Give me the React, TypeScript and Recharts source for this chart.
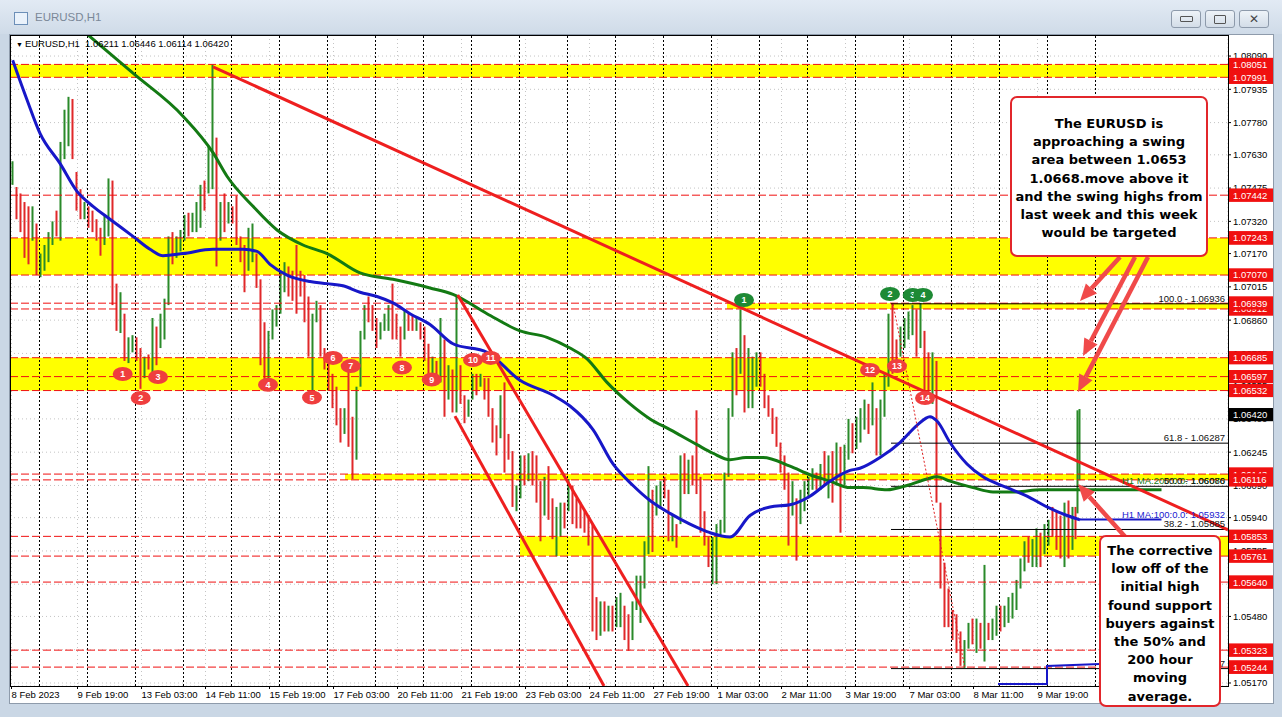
import React from 'react';
import {
  ComposedChart, Bar, Line, XAxis, YAxis, CartesianGrid,
  ReferenceLine, ReferenceArea, ReferenceDot,
} from 'recharts';

// Time index: hours counted from 9 Feb 2023 00:00 (weekends skipped, one unit = one H1 bar)
// Price bars are grouped in pairs of hours, first pair starts 8 Feb 10:00 (hour -14)
const FIRST_HOUR = -14;
const barHigh = [
  1.0760,1.0748,1.0745,1.0741,1.0739,1.0739,1.0731,1.0717,1.0721,1.0727,1.0732,1.0737,
  1.0769,1.0784,1.0790,1.0789,1.0755,1.0747,1.0741,1.0739,1.0737,1.0733,1.0729,1.0735,
  1.0752,1.0751,1.0703,1.0699,1.0689,1.0678,1.0679,1.0678,1.0673,1.0669,1.0670,1.0687,
  1.0683,1.0689,1.0696,1.0725,1.0727,1.0725,1.0728,1.0735,1.0736,1.0736,1.0741,1.0749,
  1.0751,1.0767,1.0805,1.0771,1.0741,1.0745,1.0741,1.0739,1.0744,1.0725,1.0721,1.0729,
  1.0731,1.0717,1.0705,1.0685,1.0681,1.0691,1.0693,1.0709,1.0713,1.0711,1.0709,1.0721,
  1.0709,1.0707,1.0697,1.0689,1.0695,1.0693,1.0673,1.0669,1.0661,1.0655,1.0645,1.0645,
  1.0663,1.0641,1.0655,1.0681,1.0693,1.0697,1.0693,1.0687,1.0685,1.0689,1.0693,1.0703,
  1.0689,1.0683,1.0691,1.0689,1.0688,1.0687,1.0685,1.0683,1.0675,1.0669,1.0667,1.0687,
  1.0677,1.0665,1.0663,1.0697,1.0665,1.0651,1.0649,1.0661,1.0661,1.0661,1.0659,1.0659,
  1.0645,1.0637,1.0651,1.0657,1.0633,1.0625,1.0609,1.0623,1.0623,1.0624,1.0625,1.0623,
  1.0611,1.0613,1.0618,1.0603,1.0599,1.0601,1.0601,1.0612,1.0609,1.0603,1.0601,1.0597,
  1.0595,1.0591,1.0557,1.0555,1.0555,1.0553,1.0553,1.0557,1.0559,1.0553,1.0549,1.0555,
  1.0567,1.0567,1.0583,1.0618,1.0607,1.0609,1.0611,1.0613,1.0607,1.0595,1.0591,1.0623,
  1.0624,1.0621,1.0623,1.0644,1.0613,1.0597,1.0585,1.0585,1.0591,1.0593,1.0615,1.0645,
  1.0671,1.0673,1.0691,1.0679,1.0673,1.0669,1.0671,1.0671,1.0661,1.0651,1.0645,1.0641,
  1.0629,1.0623,1.0615,1.0611,1.0603,1.0607,1.0611,1.0613,1.0617,1.0615,1.0619,1.0625,
  1.0623,1.0625,1.0629,1.0627,1.0628,1.0640,1.0638,1.0641,1.0645,1.0649,1.0647,1.0657,
  1.0645,1.0649,1.0661,1.0689,1.0694,1.0677,1.0683,1.0687,1.0690,1.0693,1.0691,1.0694,
  1.0681,1.0671,1.0671,1.0667,1.0601,1.0573,1.0561,1.0551,1.0549,1.0541,1.0537,1.0545,
  1.0547,1.0547,1.0545,1.0572,1.0545,1.0547,1.0553,1.0553,1.0553,1.0557,1.0559,1.0565,
  1.0575,1.0583,1.0585,1.0584,1.0589,1.0587,1.0591,1.0593,1.0599,1.0597,1.0595,1.0601,
  1.0602,1.0599,
];
const barLow = [
  1.0749,1.0733,1.0727,1.0715,1.0712,1.0723,1.0707,1.0706,1.0709,1.0713,1.0721,1.0725,
  1.0723,1.0761,1.0767,1.0761,1.0737,1.0733,1.0733,1.0729,1.0727,1.0723,1.0716,1.0721,
  1.0725,1.0693,1.0681,1.0680,1.0667,1.0666,1.0671,1.0667,1.0654,1.0659,1.0663,1.0661,
  1.0665,1.0673,1.0677,1.0693,1.0712,1.0715,1.0718,1.0723,1.0725,1.0727,1.0727,1.0729,
  1.0737,1.0745,1.0747,1.0711,1.0723,1.0727,1.0731,1.0731,1.0721,1.0713,1.0699,1.0709,
  1.0713,1.0701,1.0665,1.0657,1.0654,1.0677,1.0683,1.0689,1.0699,1.0697,1.0695,1.0689,
  1.0697,1.0685,1.0669,1.0652,1.0685,1.0669,1.0663,1.0653,1.0645,1.0637,1.0629,1.0633,
  1.0627,1.0612,1.0621,1.0655,1.0677,1.0685,1.0681,1.0673,1.0677,1.0681,1.0681,1.0677,
  1.0677,1.0669,1.0677,1.0681,1.0681,1.0681,1.0677,1.0667,1.0661,1.0659,1.0657,1.0657,
  1.0641,1.0649,1.0643,1.0643,1.0647,1.0638,1.0641,1.0649,1.0651,1.0655,1.0649,1.0641,
  1.0629,1.0623,1.0631,1.0615,1.0621,1.0599,1.0597,1.0603,1.0609,1.0611,1.0609,1.0601,
  1.0583,1.0595,1.0593,1.0584,1.0576,1.0585,1.0589,1.0597,1.0591,1.0589,1.0589,1.0587,
  1.0581,1.0541,1.0537,1.0539,1.0541,1.0541,1.0541,1.0543,1.0543,1.0537,1.0532,1.0537,
  1.0551,1.0545,1.0561,1.0577,1.0578,1.0595,1.0599,1.0603,1.0583,1.0583,1.0580,1.0591,
  1.0605,1.0605,1.0609,1.0605,1.0587,1.0581,1.0571,1.0563,1.0563,1.0585,1.0587,1.0613,
  1.0641,1.0651,1.0661,1.0643,1.0645,1.0645,1.0655,1.0655,1.0645,1.0641,1.0633,1.0627,
  1.0615,1.0607,1.0581,1.0595,1.0574,1.0591,1.0597,1.0603,1.0607,1.0607,1.0607,1.0609,
  1.0603,1.0601,1.0609,1.0587,1.0609,1.0621,1.0624,1.0626,1.0629,1.0635,1.0633,1.0637,
  1.0623,1.0623,1.0641,1.0655,1.0661,1.0663,1.0669,1.0673,1.0677,1.0679,1.0669,1.0673,
  1.0651,1.0649,1.0647,1.0601,1.0561,1.0543,1.0543,1.0537,1.0531,1.0525,1.0524,1.0533,
  1.0535,1.0531,1.0533,1.0527,1.0537,1.0537,1.0539,1.0541,1.0543,1.0545,1.0547,1.0551,
  1.0561,1.0569,1.0573,1.0571,1.0571,1.0571,1.0577,1.0581,1.0585,1.0579,1.0575,1.0571,
  1.0575,1.0579,
];
const barUp = [
  1,0,0,0,0,1,0,1,1,1,1,0,
  1,1,1,0,0,0,1,0,0,0,0,1,
  1,0,0,1,0,1,1,0,0,1,0,1,
  0,1,1,1,0,1,1,1,0,1,1,1,
  0,1,1,0,1,0,1,0,0,0,0,1,
  1,0,0,0,1,1,1,1,1,0,0,0,
  0,0,0,1,1,0,0,0,0,0,0,1,
  0,0,1,1,1,0,0,0,1,1,1,0,
  0,0,1,0,0,1,0,0,0,1,0,1,
  0,1,0,1,0,0,1,1,0,1,0,0,
  0,0,1,0,0,0,1,1,0,1,0,0,
  0,1,0,0,1,1,0,1,0,0,0,0,
  0,0,0,1,0,1,0,1,1,0,0,1,
  1,1,1,1,0,1,1,0,0,1,0,1,
  0,1,0,0,0,0,0,1,1,1,1,1,
  1,0,1,0,1,1,1,0,0,0,0,0,
  0,0,0,1,0,1,1,1,1,0,1,0,
  1,0,1,0,1,1,0,1,1,1,0,1,
  0,1,1,1,0,0,1,1,1,1,0,1,
  0,0,1,0,0,0,0,0,0,0,1,1,
  0,1,0,1,0,1,1,0,1,1,1,1,
  1,1,0,1,1,0,1,1,0,0,0,1,
  0,1,
];
// last single H1 bars (10 Mar 14:00, 15:00, 16:00)
const tailHours = [518, 519, 520];
const tailHigh = [1.0599, 1.0644, 1.06446];
const tailLow = [1.0584, 1.0596, 1.06114];
const tailUp = [0, 1, 1];

// Moving averages [time index, value]
const ma100 = [
  [-13.4,1.0807],[-6.4,1.0789],[0.25,1.0773],[10.25,1.0759],[18.75,1.0746],[26.75,1.0739],[35.25,1.0733],
  [46.75,1.0725],[55.25,1.0719],[61.75,1.0716],[71.75,1.0717],[86.75,1.0719],[101.75,1.0719],[108.75,1.0718],
  [115.25,1.0712],[123.75,1.0707],[135.25,1.0704],[143.75,1.0703],[151.75,1.0702],[160.25,1.0699],[168.75,1.0697],
  [176.75,1.0694],[185.25,1.0689],[195.25,1.0684],[206.75,1.0675],[223.75,1.0671],[240.25,1.0658],[256.75,1.0651],
  [265.25,1.0646],[276.75,1.0635],[286.75,1.0619],[296.75,1.0609],[305.25,1.0602],[315.25,1.0596],[325.25,1.0591],
  [335.25,1.0587],[345.25,1.0585],[355.25,1.0595],[365.25,1.0599],[375.25,1.0600],[385.25,1.0604],[395.25,1.0611],
  [405.25,1.0616],[410.25,1.0617],[420.25,1.0622],[430.25,1.0629],[438.75,1.0637],[445.25,1.0641],[448.75,1.0639],
  [455.25,1.0629],[463.75,1.0619],[471.75,1.0613],[483.75,1.0608],[493.75,1.0604],[503.75,1.0599],[513.75,1.0595],
  [520.25,1.0593],
];
const ma200 = [
  [20.25,1.0822],[46.75,1.0801],[71.75,1.0781],[86.75,1.0764],[93.75,1.0753],[106.75,1.0739],[118.75,1.0728],
  [131.75,1.0721],[143.75,1.0717],[160.25,1.0708],[176.75,1.0705],[195.25,1.0701],[206.75,1.0698],[223.75,1.0689],
  [240.25,1.0681],[253.75,1.0678],[265.25,1.0673],[273.75,1.0668],[283.75,1.0657],[295.25,1.0647],[305.25,1.0640],
  [315.25,1.0635],[328.75,1.0628],[336.75,1.0624],[345.25,1.0621],[353.25,1.0622],[361.75,1.0622],[375.25,1.0618],
  [385.25,1.0614],[395.25,1.0611],[405.25,1.0608],[411.75,1.0608],[423.75,1.0607],[433.75,1.0609],[443.75,1.0612],
  [448.75,1.0613],[455.25,1.0611],[466.75,1.0608],[476.75,1.0606],[488.75,1.0606],[500.25,1.0607],[520.25,1.0607],
];
const lowerBlue = [[479.25,1.05165],[503.75,1.05165],[503.75,1.05249],[530.25,1.05258]];

// Axis ticks
const PRICE_TICKS = [1.0809,1.07935,1.0778,1.0763,1.07475,1.0732,1.0717,1.07015,1.0686,1.06705,1.06555,1.064,1.06245,1.0609,1.0594,1.05785,1.0563,1.0548,1.05325,1.0517];
const TIME_TICKS = [-14,19,51,83,115,147,179,211,243,275,307,339,371,403,435,467,499];
const TIME_LABELS = ['8 Feb 2023','9 Feb 19:00','13 Feb 03:00','14 Feb 11:00','15 Feb 19:00','17 Feb 03:00','20 Feb 11:00','21 Feb 19:00','23 Feb 03:00','24 Feb 11:00','27 Feb 19:00','1 Mar 03:00','2 Mar 11:00','3 Mar 19:00','7 Mar 03:00','8 Mar 11:00','9 Mar 19:00'];
const DAY_STARTS = [0,24,48,72,96,120,144,168,192,216,240,264,288,312,336,360,384,408,432,456,480,504,528];

// Horizontal levels, yellow zones
const LEVELS = [1.08051,1.07991,1.07442,1.07243,1.0707,1.06912,1.06939,1.06685,1.06597,1.06532,1.06143,1.06116,1.05853,1.05761,1.0564,1.05323,1.05244];
const ZONE_LOW = [1.07991,1.0707,1.06912,1.06532,1.06116,1.05761];
const ZONE_HIGH = [1.08051,1.07243,1.06939,1.06685,1.06143,1.05853];
const ZONE_FROM = [null,null,343.75,null,152.75,240.25];
const LAST_PRICE = 1.0642;

// Trend lines [t1, p1, t2, p2]
const TRENDS = [
  [86.75,1.0804,594.25,1.05883],
  [209.1,1.06977,324.25,1.05156],
  [207.75,1.06413,282.25,1.05156],
];
const FIB_FROM = 425.75;
const FIB_LEVELS = [1.06936,1.06287,1.06086,1.05885,1.05237];
const FIB_NAMES = ['100.0','61.8','50.0','38.2','0.0'];
const FIB_DIAG = [426.75,1.06936,462.75,1.05237];

// Swing markers
const RED_MARKS = [
  [41.6,1.06609],[50.6,1.06497],[59.25,1.06595],[114.25,1.06559],[136.25,1.065],[146.75,1.06684],[155.6,1.06646],
  [181.25,1.06639],[196.1,1.06583],[216.75,1.06674],[225.6,1.06684],[415.25,1.06628],[428.75,1.06646],[442.75,1.06497],
];
const GREEN_MARKS = [[352.25,1.06954],[425.25,1.06982],[436.6,1.06977],[441.75,1.06977]];

const X_MIN = -14.75, X_MAX = 594.25;
const Y_MIN = 1.05156, Y_MAX = 1.08188;
const PLOT_H = 651;
const PX_PER_PRICE = PLOT_H / (Y_MAX - Y_MIN);

const FONT = "'Liberation Sans', Arial, sans-serif";
const UP = '#2a8a2a';
const DOWN = '#e0282a';
const TREND_RED = '#ee1f1f';
const TAG_RED = '#f01010';

const TAGS = [
  ...LEVELS.slice(0, 10).map((v) => ({ v, bg: TAG_RED })),
  { v: LAST_PRICE, bg: '#000' },
  ...LEVELS.slice(10).map((v) => ({ v, bg: TAG_RED })),
];

const bars = [
  ...barHigh.map((hi, i) => ({ t: FIRST_HOUR + 2 * i + 0.5, range: [barLow[i], hi], up: barUp[i] })),
  ...tailHours.map((h, i) => ({ t: h, range: [tailLow[i], tailHigh[i]], up: tailUp[i] })),
];
const toPts = (arr: number[][]) => arr.map(([t, v]) => ({ t, v }));

const BarShape = (props: any) => {
  const { x, y, width, height, payload } = props;
  if (x == null || y == null) return null;
  const cx = x + (width || 0) / 2;
  const top = Math.min(y, y + height);
  const h = Math.max(Math.abs(height), 1);
  return <rect x={cx - 1} y={top} width={2} height={h} fill={payload.up ? UP : DOWN} />;
};

const XTick = (props: any) => {
  const { x, y, payload } = props;
  const i = TIME_TICKS.indexOf(payload.value);
  return <text x={x} y={y} dy="0.71em" textAnchor="start" fontSize={9.5} fontFamily={FONT} fill="#000">{TIME_LABELS[i]}</text>;
};

const TagBox = ({ x, y, bg, v }: any) => (
  <g>
    <rect x={x} y={y - 6.5} width={45} height={13} fill={bg} />
    <text x={x + 4} y={y} dy="0.36em" fontSize={9.5} fontFamily={FONT} fill="#fff">{v.toFixed(5)}</text>
  </g>
);

// price labels; tags that sit on a label are repainted over it, as the platform does
const YTick = (props: any) => {
  const { x, y, payload } = props;
  const val = Number(payload.value);
  const near = TAGS.filter((tg) => Math.abs((val - tg.v) * PX_PER_PRICE) < 20);
  return (
    <g>
      <text x={x} y={y} dy="0.355em" textAnchor="start" fontSize={9.5} fontFamily={FONT} fill="#000">{val.toFixed(5)}</text>
      {near.map((tg) => (
        <TagBox key={tg.v} x={x - 4} y={y + (val - tg.v) * PX_PER_PRICE} bg={tg.bg} v={tg.v} />
      ))}
    </g>
  );
};

const PriceTag = (bg: string, v: number) => (p: any) => <TagBox x={p.cx + 1} y={p.cy} bg={bg} v={v} />;
const EndText = (text: string, color: string, dy: number) => (p: any) => (
  <text x={p.cx - 3} y={p.cy + dy} textAnchor="end" fontSize={9.5} fontFamily={FONT} fill={color}>{text}</text>
);
const Badge = (n: number, color: string) => (p: any) => (
  <g>
    <ellipse cx={p.cx} cy={p.cy} rx={10} ry={7} fill={color} />
    <text x={p.cx} y={p.cy} dy="0.36em" textAnchor="middle" fontSize={9} fontWeight="bold" fontFamily={FONT} fill="#fff">{n}</text>
  </g>
);

const Arrow = ({ x1, y1, x2, y2 }: any) => {
  const dx = x2 - x1, dy = y2 - y1, L = Math.hypot(dx, dy);
  const ux = dx / L, uy = dy / L, hl = 17, hw = 7.5;
  const bx = x2 - ux * hl, by = y2 - uy * hl, px = -uy, py = ux;
  return (
    <g>
      <line x1={x1} y1={y1} x2={bx} y2={by} stroke="#f04a4a" strokeWidth={4.5} />
      <polygon points={`${x2},${y2} ${bx + px * hw},${by + py * hw} ${bx - px * hw},${by - py * hw}`} fill="#f04a4a" />
    </g>
  );
};

const BOX_A = ['The EURUSD is', 'approaching a swing', 'area between 1.0653', '1.0668.move above it', 'and the swing highs from', 'last week and this week', 'would be targeted'];
const BOX_B = ['The corrective', 'low off of the', 'initial high', 'found support', 'buyers against', 'the 50% and', '200 hour', 'moving', 'average.'];

const boxStyle = (l: number, t: number, w: number, h: number, pt: number): React.CSSProperties => ({
  position: 'absolute', left: l, top: t, width: w, height: h, boxSizing: 'border-box',
  border: '2px solid #e2262b', borderRadius: 7, background: '#fff', paddingTop: pt,
  fontFamily: "'DejaVu Sans', Verdana, sans-serif", fontWeight: 'bold', fontSize: 13, lineHeight: '18.2px',
  textAlign: 'center', color: '#000', whiteSpace: 'nowrap',
});

const Btn = ({ left, children }: any) => (
  <div style={{ position: 'absolute', left, top: 10, width: 30, height: 18, boxSizing: 'border-box', border: '1px solid #8d9aab', borderRadius: 3, background: 'linear-gradient(#eef3f8,#d3dde8)', display: 'flex', alignItems: 'center', justifyContent: 'center' }}>{children}</div>
);

export default function App() {
  return (
    <div style={{ position: 'absolute', left: 0, top: 0, width: 1282, height: 717, overflow: 'hidden', background: '#cad7e5', fontFamily: FONT }}>
      <div style={{ position: 'absolute', left: 0, top: 0, width: 1282, height: 34, background: 'linear-gradient(#e2eaf4,#cfdbe8)' }} />
      <div style={{ position: 'absolute', left: 14, top: 12, width: 14, height: 13, border: '1px solid #6c8fb8', background: '#eaf2fb', boxSizing: 'border-box' }} />
      <div style={{ position: 'absolute', left: 35, top: 11, fontSize: 11.5, color: '#7b8898' }}>EURUSD,H1</div>
      <Btn left={1171}><div style={{ width: 11, height: 4, border: '1px solid #555', borderRadius: 1 }} /></Btn>
      <Btn left={1205}><div style={{ width: 10, height: 7, border: '1px solid #555', borderRadius: 1 }} /></Btn>
      <Btn left={1239}><span style={{ fontSize: 12, color: '#444', fontFamily: 'DejaVu Sans' }}>✕</span></Btn>

      <div style={{ position: 'absolute', left: 9, top: 34, width: 1265, height: 670, background: '#fff', border: '1px solid #8e9bab', boxSizing: 'border-box' }} />
      <div style={{ position: 'absolute', left: 10, top: 35 }}>
        <ComposedChart width={1263} height={668} data={bars} margin={{ top: 0, right: 0, bottom: 0, left: 0 }}>
          <XAxis dataKey="t" type="number" domain={[X_MIN, X_MAX]} allowDataOverflow ticks={TIME_TICKS} interval={0}
            height={17} axisLine={false} tickSize={3} tickLine={{ stroke: '#000' }} tick={<XTick />} />
          <YAxis type="number" orientation="right" domain={[Y_MIN, Y_MAX]} allowDataOverflow ticks={PRICE_TICKS} interval={0}
            width={45} axisLine={false} tickSize={3} tickLine={{ stroke: '#000' }} tick={<YTick />} />
          <CartesianGrid stroke="#c4c4c4" strokeDasharray="1 3" />
          {ZONE_LOW.map((lo, i) => (
            <ReferenceArea key={'z' + i} x1={ZONE_FROM[i] ?? X_MIN} x2={X_MAX} y1={lo} y2={ZONE_HIGH[i]} fill="#ffff00" fillOpacity={1} stroke="none" />
          ))}
          {DAY_STARTS.map((d) => (
            <ReferenceLine key={'d' + d} x={d} stroke="#000" strokeDasharray="2 2" strokeWidth={1} />
          ))}
          {LEVELS.map((lv) => (
            <ReferenceLine key={'l' + lv} y={lv} stroke={TAG_RED} strokeDasharray="8 3" strokeWidth={1} />
          ))}
          {FIB_LEVELS.map((lv) => (
            <ReferenceLine key={'f' + lv} segment={[{ x: FIB_FROM, y: lv }, { x: X_MAX, y: lv }]} stroke="#000" strokeWidth={1} />
          ))}
          <Bar dataKey="range" shape={BarShape} barSize={2} isAnimationActive={false} />
          <Line data={toPts(ma200)} dataKey="v" type="monotone" stroke="#137a13" strokeWidth={3} dot={false} isAnimationActive={false} />
          <Line data={toPts(ma100)} dataKey="v" type="monotone" stroke="#1717c8" strokeWidth={3} dot={false} isAnimationActive={false} />
          <Line data={toPts(lowerBlue)} dataKey="v" type="linear" stroke="#1717c8" strokeWidth={2} dot={false} isAnimationActive={false} />
          <ReferenceLine segment={[{ x: 520.25, y: 1.0607 }, { x: 561, y: 1.0607 }]} stroke="#137a13" strokeWidth={3} />
          <ReferenceLine segment={[{ x: 520.25, y: 1.05932 }, { x: 561, y: 1.05932 }]} stroke="#1717c8" strokeWidth={2} />
          {TRENDS.map((s, i) => (
            <ReferenceLine key={'t' + i} segment={[{ x: s[0], y: s[1] }, { x: s[2], y: s[3] }]} stroke={TREND_RED} strokeWidth={3} />
          ))}
          <ReferenceLine segment={[{ x: FIB_DIAG[0], y: FIB_DIAG[1] }, { x: FIB_DIAG[2], y: FIB_DIAG[3] }]} stroke="#e02020" strokeDasharray="2 2" strokeWidth={1} />
          {RED_MARKS.map((m, i) => (
            <ReferenceDot key={'r' + i} x={m[0]} y={m[1]} r={0} shape={Badge(i + 1, '#ef3e3e')} />
          ))}
          {GREEN_MARKS.map((m, i) => (
            <ReferenceDot key={'g' + i} x={m[0]} y={m[1]} r={0} shape={Badge(i + 1, '#1e8a35')} />
          ))}
          <ReferenceDot x={X_MAX} y={1.06086} r={0} shape={EndText('H1 MA:200:0.0: 1.06070', '#137a13', -2)} />
          <ReferenceDot x={X_MAX} y={1.05932} r={0} shape={EndText('H1 MA:100:0.0: 1.05932', '#2020d0', -1)} />
          {FIB_LEVELS.map((lv, i) => (
            <ReferenceDot key={'fl' + i} x={X_MAX} y={lv} r={0} shape={EndText(`${FIB_NAMES[i]} - ${lv.toFixed(5)}`, '#111', -2)} />
          ))}
          {TAGS.map((tg) => (
            <ReferenceDot key={'p' + tg.v} x={X_MAX} y={tg.v} r={0} shape={PriceTag(tg.bg, tg.v)} />
          ))}
        </ComposedChart>
      </div>
      <div style={{ position: 'absolute', left: 10, top: 35, width: 1219, height: 652, border: '1px solid #000', boxSizing: 'border-box', pointerEvents: 'none' }} />
      <div style={{ position: 'absolute', left: 16, top: 38, fontSize: 9.5, color: '#000', whiteSpace: 'pre' }}>
        <span style={{ fontSize: 7 }}>▼ </span>EURUSD,H1  1.06211 1.06446 1.06114 1.06420
      </div>

      <svg width={1282} height={717} style={{ position: 'absolute', left: 0, top: 0, pointerEvents: 'none' }}>
        <Arrow x1={1120} y1={257} x2={1080} y2={301} />
        <Arrow x1={1135} y1={257} x2={1083} y2={356} />
        <Arrow x1={1148} y1={257} x2={1078} y2={392} />
        <Arrow x1={1128} y1={540} x2={1078} y2={484} />
      </svg>
      <div style={boxStyle(1010, 96, 198, 161, 17)}>
        {BOX_A.map((s) => <div key={s}>{s}</div>)}
      </div>
      <div style={boxStyle(1099, 535, 122, 172, 5)}>
        {BOX_B.map((s) => <div key={s}>{s}</div>)}
      </div>
    </div>
  );
}
